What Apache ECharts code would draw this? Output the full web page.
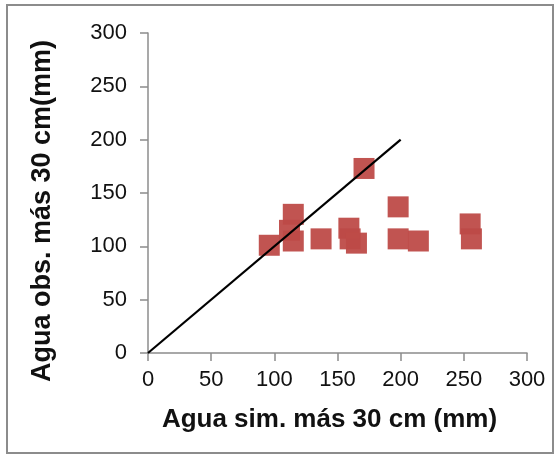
<!DOCTYPE html>
<html><head><meta charset="utf-8">
<script src="https://cdn.jsdelivr.net/npm/echarts@6/dist/echarts.min.js"></script>
<style>html,body{margin:0;padding:0;background:#fff}#c{width:556px;height:456px}
#f{position:absolute;left:6px;top:4px;width:548px;height:450px;border:2px solid #8c8c8c;box-sizing:border-box;pointer-events:none}</style>
</head><body><div id="c"></div><div id="f"></div>
<script>
var simX = [96, 115, 112, 115, 137, 159, 160, 165, 171, 198, 198, 214, 255, 256];
var obsY = [101, 130, 115, 105, 107, 117, 107, 103, 173, 137, 107, 105, 121, 107];
var lineX = [0, 200];
var lineY = [0, 200];
var xTitle = 'Agua sim. más 30 cm (mm)';
var yTitle = 'Agua obs. más 30 cm(mm)';

var pts = simX.map(function(x,i){return [x, obsY[i]];});
var ln = lineX.map(function(x,i){return [x, lineY[i]];});
var chart = echarts.init(document.getElementById('c'));
var font = 'Liberation Sans, Arial, sans-serif';
var axisCommon = {
  min:0, max:300, interval:50,
  axisLine:{show:true, lineStyle:{color:'#8c8c8c', width:1.5}},
  axisTick:{show:true, inside:false, length:8, lineStyle:{color:'#8c8c8c', width:1.5}},
  splitLine:{show:false},
  axisLabel:{color:'#111', fontFamily:font, fontSize:22}
};
chart.setOption({
  animation:false,
  grid:{left:148, right:29, top:33, bottom:103},
  xAxis: Object.assign({}, axisCommon, {type:'value', name:xTitle, nameLocation:'middle', nameGap:54,
    nameTextStyle:{color:'#111', fontFamily:font, fontSize:26, fontWeight:'bold', padding:[0,16,0,0]},
    axisLabel:Object.assign({}, axisCommon.axisLabel, {margin:16})}),
  yAxis: Object.assign({}, axisCommon, {type:'value', name:yTitle, nameLocation:'middle', nameGap:92, nameRotate:90,
    nameTextStyle:{color:'#111', fontFamily:font, fontSize:27, fontWeight:'bold', padding:[0,36,0,0]},
    axisLabel:Object.assign({}, axisCommon.axisLabel, {margin:21})}),
  series:[
    {type:'line', data:ln, symbol:'none', lineStyle:{color:'#000', width:2.2}, z:3},
    {type:'scatter', data:pts, symbol:'rect', symbolSize:21,
     itemStyle:{color:'#be4b48', opacity:0.95}, z:2}
  ]
});
</script></body></html>
